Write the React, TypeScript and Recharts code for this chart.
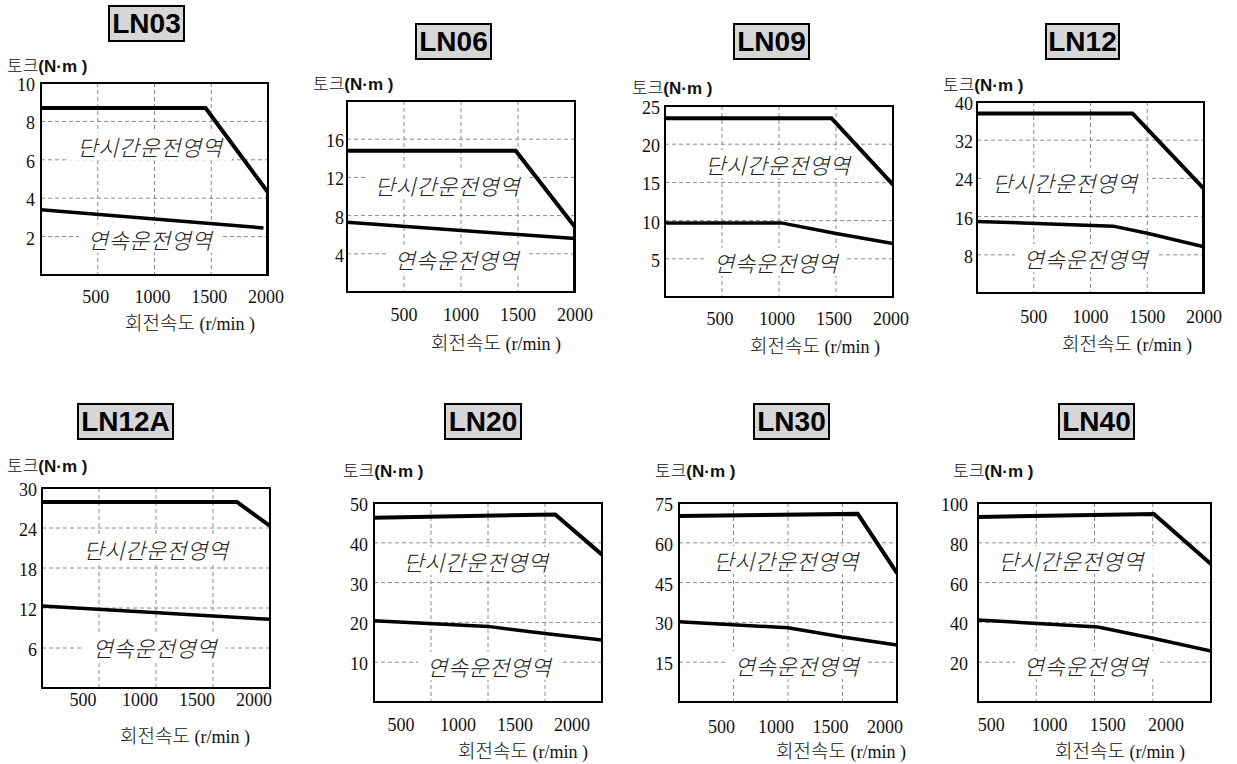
import React from 'react';
import { LineChart, Line, XAxis, YAxis, CartesianGrid, ReferenceArea, ReferenceDot } from 'recharts';

type Pt = { rpm: number; torque: number };

// shared x axis (회전속도, r/min)
const speedTicks = [500, 1000, 1500, 2000];

const SHORT_TEXT = '단시간운전영역';
const CONT_TEXT = '연속운전영역';

// LN03
const ln03Ticks = [2, 4, 6, 8, 10];
const ln03Peak: Pt[] = [
  { rpm: 0, torque: 8.7 },
  { rpm: 1450, torque: 8.7 },
  { rpm: 2000, torque: 4.3 },
  { rpm: 2000, torque: 0 },
];
const ln03Cont: Pt[] = [
  { rpm: 0, torque: 3.4 },
  { rpm: 1960, torque: 2.45 },
];

// LN06
const ln06Ticks = [4, 8, 12, 16];
const ln06Peak: Pt[] = [
  { rpm: 0, torque: 14.8 },
  { rpm: 1480, torque: 14.8 },
  { rpm: 2000, torque: 6.8 },
  { rpm: 2000, torque: 0 },
];
const ln06Cont: Pt[] = [
  { rpm: 0, torque: 7.3 },
  { rpm: 2000, torque: 5.6 },
];

// LN09
const ln09Ticks = [5, 10, 15, 20, 25];
const ln09Peak: Pt[] = [
  { rpm: 0, torque: 23.4 },
  { rpm: 1460, torque: 23.4 },
  { rpm: 2000, torque: 14.7 },
];
const ln09Cont: Pt[] = [
  { rpm: 0, torque: 9.7 },
  { rpm: 1020, torque: 9.7 },
  { rpm: 1500, torque: 8.3 },
  { rpm: 2000, torque: 7.0 },
];

// LN12
const ln12Ticks = [8, 16, 24, 32, 40];
const ln12Peak: Pt[] = [
  { rpm: 0, torque: 37.6 },
  { rpm: 1370, torque: 37.6 },
  { rpm: 2000, torque: 21.8 },
  { rpm: 2000, torque: 0 },
];
const ln12Cont: Pt[] = [
  { rpm: 0, torque: 15 },
  { rpm: 1200, torque: 14 },
  { rpm: 1500, torque: 12.5 },
  { rpm: 2000, torque: 9.7 },
];

// LN12A
const ln12aTicks = [6, 12, 18, 24, 30];
const ln12aPeak: Pt[] = [
  { rpm: 0, torque: 27.9 },
  { rpm: 1710, torque: 27.9 },
  { rpm: 2000, torque: 24.3 },
];
const ln12aCont: Pt[] = [
  { rpm: 0, torque: 12.3 },
  { rpm: 2000, torque: 10.3 },
];

// LN20
const ln20Ticks = [10, 20, 30, 40, 50];
const ln20Peak: Pt[] = [
  { rpm: 0, torque: 46.3 },
  { rpm: 1590, torque: 47.1 },
  { rpm: 2000, torque: 37 },
];
const ln20Cont: Pt[] = [
  { rpm: 0, torque: 20.4 },
  { rpm: 1000, torque: 19 },
  { rpm: 1500, torque: 17.2 },
  { rpm: 2000, torque: 15.6 },
];

// LN30
const ln30Ticks = [15, 30, 45, 60, 75];
const ln30Peak: Pt[] = [
  { rpm: 0, torque: 70.1 },
  { rpm: 1640, torque: 70.9 },
  { rpm: 2000, torque: 48.6 },
];
const ln30Cont: Pt[] = [
  { rpm: 0, torque: 30.2 },
  { rpm: 1000, torque: 28 },
  { rpm: 1500, torque: 24.5 },
  { rpm: 2000, torque: 21.5 },
];

// LN40
const ln40Ticks = [20, 40, 60, 80, 100];
const ln40Peak: Pt[] = [
  { rpm: 0, torque: 93 },
  { rpm: 1510, torque: 94.5 },
  { rpm: 2000, torque: 69.3 },
];
const ln40Cont: Pt[] = [
  { rpm: 0, torque: 41.2 },
  { rpm: 1030, torque: 37.7 },
  { rpm: 1500, torque: 32 },
  { rpm: 2000, torque: 25.6 },
];

const KR = "'Noto Sans CJK KR', sans-serif";
const SERIF = "'Liberation Serif', 'Times New Roman', serif";
const SANS = "'Liberation Sans', Arial, sans-serif";

interface PanelProps {
  name: string;
  yMax: number;
  yTicks: number[];
  peak: Pt[];
  cont: Pt[];
  shortAt: Pt;
  contAt: Pt;
  plot: { left: number; top: number; w: number; h: number };
  title: { left: number; top: number; w: number };
  yLabel: { left: number; cy: number };
  xLabel: { cx: number; cy: number };
  tickDx: number;
  tickDy: number;
  yGap: number;
}

const regionShape = (text: string) => (props: any) => {
  const { cx, cy } = props;
  const w = text.length * 22 + 10;
  return (
    <g>
      <rect x={cx - w / 2} y={cy - 14} width={w} height={28} fill="#fff" />
      <text
        x={cx}
        y={cy}
        textAnchor="middle"
        dominantBaseline="central"
        fontSize={22}
        fontStyle="italic"
        fontWeight={300}
        fontFamily={KR}
        letterSpacing={0.5}
        fill="#222"
      >
        {text}
      </text>
    </g>
  );
};

const Panel: React.FC<PanelProps> = (p) => {
  const chartW = 50 + p.plot.w + 30;
  const chartH = 10 + p.plot.h + 45;

  const XTick = (props: any) => (
    <text
      x={props.x + p.tickDx}
      y={props.y + p.tickDy}
      textAnchor="middle"
      dominantBaseline="central"
      fontSize={18}
      fontFamily={SERIF}
      fill="#111"
    >
      {props.payload.value}
    </text>
  );
  const YTick = (props: any) => (
    <text
      x={props.x}
      y={props.y + 2}
      textAnchor="end"
      dominantBaseline="central"
      fontSize={18}
      fontFamily={SERIF}
      fill="#111"
    >
      {props.payload.value}
    </text>
  );

  return (
    <>
      <div
        style={{
          position: 'absolute',
          left: p.title.left,
          top: p.title.top,
          width: p.title.w,
          height: 37,
          boxSizing: 'border-box',
          border: '2px solid #000',
          background: '#d6d6d6',
          display: 'flex',
          alignItems: 'center',
          justifyContent: 'center',
          fontFamily: SANS,
          fontWeight: 700,
          fontSize: 28,
          color: '#000',
        }}
      >
        {p.name}
      </div>
      <div
        style={{
          position: 'absolute',
          left: p.yLabel.left,
          top: p.yLabel.cy - 9,
          height: 18,
          lineHeight: '18px',
          whiteSpace: 'nowrap',
          color: '#111',
        }}
      >
        <span style={{ fontFamily: KR, fontSize: 17, fontWeight: 300 }}>토크</span>
        <span style={{ fontFamily: SANS, fontSize: 17, fontWeight: 700 }}>(N·m )</span>
      </div>
      <div
        style={{
          position: 'absolute',
          left: p.xLabel.cx - 110,
          width: 220,
          top: p.xLabel.cy - 11,
          height: 22,
          lineHeight: '22px',
          textAlign: 'center',
          whiteSpace: 'nowrap',
          color: '#111',
        }}
      >
        <span style={{ fontFamily: KR, fontSize: 19, fontWeight: 300 }}>회전속도</span>
        <span style={{ fontFamily: SERIF, fontSize: 18 }}> (r/min )</span>
      </div>
      <div style={{ position: 'absolute', left: p.plot.left - 50, top: p.plot.top - 10 }}>
        <LineChart width={chartW} height={chartH} margin={{ top: 10, right: 30, bottom: 5, left: 10 }}>
          <CartesianGrid stroke="#8a8a8a" strokeWidth={1} strokeDasharray="4 3" />
          <XAxis
            type="number"
            dataKey="rpm"
            domain={[0, 2000]}
            ticks={speedTicks}
            interval={0}
            allowDataOverflow
            axisLine={false}
            tickLine={false}
            tickSize={0}
            tickMargin={0}
            height={40}
            tick={<XTick />}
          />
          <YAxis
            type="number"
            dataKey="torque"
            domain={[0, p.yMax]}
            ticks={p.yTicks}
            interval={0}
            allowDataOverflow
            axisLine={false}
            tickLine={false}
            tickSize={0}
            tickMargin={p.yGap}
            width={40}
            tick={<YTick />}
          />
          <ReferenceDot
            x={p.shortAt.rpm}
            y={p.shortAt.torque}
            r={1}
            zIndex={300}
            shape={regionShape(SHORT_TEXT)}
          />
          <ReferenceDot
            x={p.contAt.rpm}
            y={p.contAt.torque}
            r={1}
            zIndex={300}
            shape={regionShape(CONT_TEXT)}
          />
          <Line
            data={p.peak}
            dataKey="torque"
            type="linear"
            stroke="#000"
            strokeWidth={4}
            dot={false}
            activeDot={false}
            isAnimationActive={false}
          />
          <Line
            data={p.cont}
            dataKey="torque"
            type="linear"
            stroke="#000"
            strokeWidth={3.5}
            dot={false}
            activeDot={false}
            isAnimationActive={false}
          />
          <ReferenceArea
            x1={0}
            x2={2000}
            y1={0}
            y2={p.yMax}
            fill="none"
            fillOpacity={0}
            stroke="#000"
            strokeWidth={2}
            ifOverflow="visible"
            zIndex={500}
          />
        </LineChart>
      </div>
    </>
  );
};

export default function App() {
  return (
    <div
      style={{
        position: 'absolute',
        left: 0,
        top: 0,
        width: 1237,
        height: 764,
        background: '#fff',
        overflow: 'hidden',
      }}
    >
      <Panel
        name="LN03"
        yMax={10}
        yTicks={ln03Ticks}
        peak={ln03Peak}
        cont={ln03Cont}
        shortAt={{ rpm: 960, torque: 6.7 }}
        contAt={{ rpm: 960, torque: 1.9 }}
        plot={{ left: 41, top: 83, w: 227, h: 192 }}
        title={{ left: 108, top: 5, w: 77 }}
        yLabel={{ left: 7, cy: 65 }}
        xLabel={{ cx: 190, cy: 322 }}
        tickDx={-2}
        tickDy={22}
        yGap={6}
      />
      <Panel
        name="LN06"
        yMax={20}
        yTicks={ln06Ticks}
        peak={ln06Peak}
        cont={ln06Cont}
        shortAt={{ rpm: 880, torque: 11.2 }}
        contAt={{ rpm: 965, torque: 3.5 }}
        plot={{ left: 347, top: 101, w: 228, h: 191 }}
        title={{ left: 415, top: 23, w: 77 }}
        yLabel={{ left: 313, cy: 83 }}
        xLabel={{ cx: 496, cy: 342 }}
        tickDx={0}
        tickDy={23}
        yGap={3}
      />
      <Panel
        name="LN09"
        yMax={25}
        yTicks={ln09Ticks}
        peak={ln09Peak}
        cont={ln09Cont}
        shortAt={{ rpm: 990, torque: 17.4 }}
        contAt={{ rpm: 975, torque: 4.6 }}
        plot={{ left: 665, top: 106, w: 228, h: 191 }}
        title={{ left: 733, top: 23, w: 77 }}
        yLabel={{ left: 632, cy: 87 }}
        xLabel={{ cx: 815, cy: 345 }}
        tickDx={-2}
        tickDy={22}
        yGap={5}
      />
      <Panel
        name="LN12"
        yMax={40}
        yTicks={ln12Ticks}
        peak={ln12Peak}
        cont={ln12Cont}
        shortAt={{ rpm: 775, torque: 23.3 }}
        contAt={{ rpm: 960, torque: 7.3 }}
        plot={{ left: 977, top: 102, w: 227, h: 191 }}
        title={{ left: 1045, top: 23, w: 75 }}
        yLabel={{ left: 943, cy: 84 }}
        xLabel={{ cx: 1127, cy: 343 }}
        tickDx={0}
        tickDy={24}
        yGap={4}
      />
      <Panel
        name="LN12A"
        yMax={30}
        yTicks={ln12aTicks}
        peak={ln12aPeak}
        cont={ln12aCont}
        shortAt={{ rpm: 1000, torque: 20.8 }}
        contAt={{ rpm: 990, torque: 6.1 }}
        plot={{ left: 42, top: 488, w: 228, h: 200 }}
        title={{ left: 77, top: 403, w: 97 }}
        yLabel={{ left: 7, cy: 465 }}
        xLabel={{ cx: 185, cy: 735 }}
        tickDx={-16}
        tickDy={12}
        yGap={5}
      />
      <Panel
        name="LN20"
        yMax={50}
        yTicks={ln20Ticks}
        peak={ln20Peak}
        cont={ln20Cont}
        shortAt={{ rpm: 895, torque: 35.5 }}
        contAt={{ rpm: 1010, torque: 9.1 }}
        plot={{ left: 374, top: 503, w: 228, h: 199 }}
        title={{ left: 444, top: 403, w: 78 }}
        yLabel={{ left: 343, cy: 470 }}
        xLabel={{ cx: 523, cy: 750 }}
        tickDx={-30}
        tickDy={23}
        yGap={6}
      />
      <Panel
        name="LN30"
        yMax={75}
        yTicks={ln30Ticks}
        peak={ln30Peak}
        cont={ln30Cont}
        shortAt={{ rpm: 982, torque: 53.5 }}
        contAt={{ rpm: 1083, torque: 13.9 }}
        plot={{ left: 679, top: 503, w: 218, h: 199 }}
        title={{ left: 753, top: 403, w: 77 }}
        yLabel={{ left: 655, cy: 470 }}
        xLabel={{ cx: 841, cy: 750 }}
        tickDx={-12}
        tickDy={25}
        yGap={6}
      />
      <Panel
        name="LN40"
        yMax={100}
        yTicks={ln40Ticks}
        peak={ln40Peak}
        cont={ln40Cont}
        shortAt={{ rpm: 800, torque: 71.4 }}
        contAt={{ rpm: 927, torque: 18.6 }}
        plot={{ left: 978, top: 503, w: 233, h: 199 }}
        title={{ left: 1058, top: 403, w: 77 }}
        yLabel={{ left: 953, cy: 470 }}
        xLabel={{ cx: 1120, cy: 750 }}
        tickDx={-45}
        tickDy={23}
        yGap={10}
      />
    </div>
  );
}
